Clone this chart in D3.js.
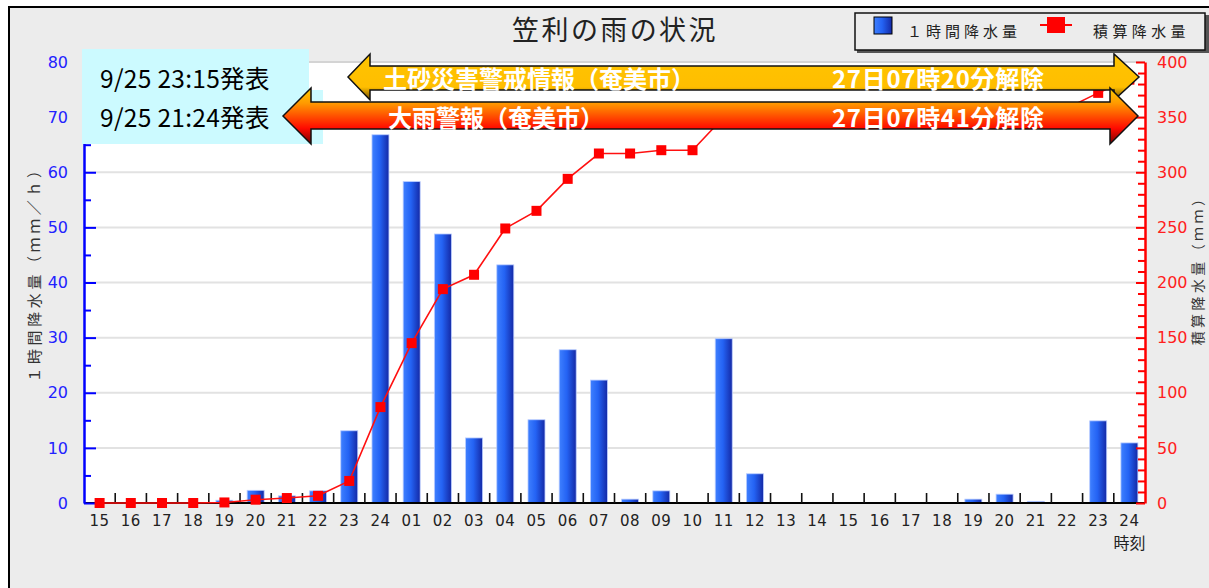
<!DOCTYPE html>
<html>
<head>
<meta charset="utf-8">
<script src="https://cdn.jsdelivr.net/npm/d3@7"></script>
<style>
  body { margin: 0; background: #fff; }
  svg { display: block; font-family: "Noto Sans CJK JP", "DejaVu Sans", sans-serif; }
</style>
</head>
<body>
<svg id="chart" width="1209" height="588"></svg>
<script>
// data
const hours = ["15","16","17","18","19","20","21","22","23","24",
  "01","02","03","04","05","06","07","08","09","10","11","12",
  "13","14","15","16","17","18","19","20","21","22","23","24"];
const hourly = [0,0,0,0,0.5,2.3,1.3,2.2,13.1,66.8,
  58.3,48.8,11.8,43.2,15.1,27.8,22.3,0.7,2.2,0,29.8,5.3,
  0,0,0,0,0,0,0.7,1.6,0.3,0,14.9,10.9];
const cumulative = [0,0,0,0,0.5,3,4.5,6.5,20,87,
  145,194,207,249,265,294,317,317,320,320,350,355,
  355,355,355,355,355,355,356,357.5,358,358,372,384];
const leftTicks = [0,10,20,30,40,50,60,70,80];
const rightTicks = [0,50,100,150,200,250,300,350,400];
const noticeTimes = ["9/25 23:15発表", "9/25 21:24発表"];
const warningNames = ["土砂災害警戒情報（奄美市）", "大雨警報（奄美市）"];
const releaseTimes = ["27日07時20分解除", "27日07時41分解除"];
const legendNames = ["１時間降水量", "積算降水量"];

const svg = d3.select("#chart");
const margin = {left: 84, right: 64, top: 62, bottom: 85};
const W = 1209, H = 588;

// outer panel
svg.append("rect").attr("x", 9).attr("y", 7).attr("width", 1300).attr("height", 700)
  .attr("fill", "#ececec").attr("stroke", "#000").attr("stroke-width", 2);

var x = d3.scaleBand().domain(d3.range(hours.length))
  .range([margin.left, W - margin.right]).padding(0);
var yL = d3.scaleLinear().domain([0, 80]).range([H - margin.bottom, margin.top]);
var yR = d3.scaleLinear().domain([0, 400]).range([H - margin.bottom, margin.top]);
const x0 = margin.left, x1 = W - margin.right, yb = H - margin.bottom;

// plot area
svg.append("rect").attr("x", x0).attr("y", margin.top).attr("width", x1 - x0)
  .attr("height", yb - margin.top).attr("fill", "#fff");
svg.append("line").attr("x1", x0).attr("x2", x1).attr("y1", margin.top).attr("y2", margin.top)
  .attr("stroke", "#d4d4d4").attr("stroke-width", 2);

// grid
svg.append("g").selectAll("line").data(leftTicks.slice(1, -1)).enter().append("line")
  .attr("x1", x0).attr("x2", x1)
  .attr("y1", d => yL(d)).attr("y2", d => yL(d))
  .attr("stroke", "#e2e2e2").attr("stroke-width", 2);

// bar gradient
const defs = svg.append("defs");
const bg = defs.append("linearGradient").attr("id", "barGrad").attr("x1", 0).attr("x2", 1).attr("y1", 0).attr("y2", 0);
bg.append("stop").attr("offset", 0).attr("stop-color", "#3f80ff");
bg.append("stop").attr("offset", 0.45).attr("stop-color", "#2463f4");
bg.append("stop").attr("offset", 1).attr("stop-color", "#1429a6");

// bars (zero hours get no bar)
const barW = 17;
const barG = svg.append("g");
hourly.forEach((v, i) => {
  if (v <= 0) return;
  barG.append("rect")
    .attr("x", x(i) + (x.bandwidth() - barW) / 2)
    .attr("y", yL(v))
    .attr("width", barW)
    .attr("height", yb - yL(v))
    .attr("fill", "url(#barGrad)")
    .attr("stroke", "#b9ccff").attr("stroke-width", 0.8);
});

// x axis baseline, boundary ticks, labels
svg.append("line").attr("x1", x0).attr("x2", x1).attr("y1", yb).attr("y2", yb)
  .attr("stroke", "#000").attr("stroke-width", 2);
svg.append("g").selectAll("line").data(d3.range(1, hours.length)).enter().append("line")
  .attr("x1", d => x(d)).attr("x2", d => x(d))
  .attr("y1", yb).attr("y2", yb - 10)
  .attr("stroke", "#111").attr("stroke-width", 1.6);
var xAxis = d3.axisBottom(x).tickSize(0).tickPadding(12).tickFormat(i => hours[i]);
var gx = svg.append("g").attr("transform", "translate(0," + yb + ")").call(xAxis);
gx.select(".domain").remove();
gx.selectAll("text").attr("font-size", 15).attr("fill", "#222")
  .attr("font-family", "DejaVu Sans").attr("letter-spacing", 0.5);
svg.append("text").attr("x", x(hours.length - 1) + x.bandwidth() / 2).attr("y", 549)
  .attr("text-anchor", "middle").attr("font-size", 16).attr("fill", "#222").text("時刻");

// left axis
var gl = svg.append("g").attr("transform", "translate(" + x0 + ",0)")
  .call(d3.axisLeft(yL).tickValues(leftTicks).tickSizeInner(-12).tickSizeOuter(0).tickPadding(16));
gl.select(".domain").attr("stroke", "#0000ff").attr("stroke-width", 2.5);
gl.selectAll(".tick line").attr("stroke", "#0000ff").attr("stroke-width", 2);
gl.selectAll("text").attr("fill", "#2222ff").attr("font-size", 16).attr("font-family", "DejaVu Sans");
var glm = svg.append("g").attr("transform", "translate(" + x0 + ",0)")
  .call(d3.axisLeft(yL).tickValues(d3.range(5, 80, 10)).tickSizeInner(-7).tickSizeOuter(0).tickFormat(""));
glm.select(".domain").remove();
glm.selectAll(".tick line").attr("stroke", "#0000ff").attr("stroke-width", 2);

// right axis
var gr = svg.append("g").attr("transform", "translate(" + x1 + ",0)")
  .call(d3.axisRight(yR).tickValues(rightTicks).tickSizeInner(-9).tickSizeOuter(0).tickPadding(12));
gr.select(".domain").attr("stroke", "#ff0000").attr("stroke-width", 2.5);
gr.selectAll(".tick line").attr("stroke", "#ff0000").attr("stroke-width", 2);
gr.selectAll("text").attr("fill", "#ff2020").attr("font-size", 16).attr("font-family", "DejaVu Sans");
var grm = svg.append("g").attr("transform", "translate(" + x1 + ",0)")
  .call(d3.axisRight(yR).tickValues(d3.range(10, 400, 10).filter(v => v % 50)).tickSizeInner(-7).tickSizeOuter(0).tickFormat(""));
grm.select(".domain").remove();
grm.selectAll(".tick line").attr("stroke", "#ff0000").attr("stroke-width", 2);

// axis titles
svg.append("text").attr("transform", "translate(33,271) rotate(-90)")
  .attr("text-anchor", "middle").attr("dominant-baseline", "central")
  .attr("font-size", 15).attr("letter-spacing", 3.6).attr("fill", "#333")
  .text("１時間降水量（ｍｍ／ｈ）");
svg.append("text").attr("transform", "translate(1197,267) rotate(-90)")
  .attr("text-anchor", "middle").attr("dominant-baseline", "central")
  .attr("font-size", 14).attr("letter-spacing", 3.4).attr("fill", "#333")
  .text("積算降水量（ｍｍ）");

// cumulative line
var line = d3.line()
  .x((d, i) => x(i) + x.bandwidth() / 2)
  .y(d => yR(d));
svg.append("path").datum(cumulative).attr("d", line)
  .attr("fill", "none").attr("stroke", "#ff1010").attr("stroke-width", 1.6);
svg.append("g").selectAll("rect").data(cumulative).enter().append("rect")
  .attr("x", (d, i) => x(i) + x.bandwidth() / 2 - 5)
  .attr("y", d => yR(d) - 5)
  .attr("width", 10).attr("height", 10).attr("fill", "#ff0000");

// notice boxes
svg.append("rect").attr("x", 82).attr("y", 49).attr("width", 227).attr("height", 48).attr("fill", "#ccfaff");
svg.append("rect").attr("x", 82).attr("y", 90).attr("width", 241).attr("height", 54).attr("fill", "#ccfaff");
svg.selectAll(".notice").data(noticeTimes).enter().append("text")
  .attr("class", "notice")
  .attr("x", 100).attr("y", (d, i) => 88 + i * 39)
  .attr("font-size", 24.5).attr("letter-spacing", 0.3).attr("fill", "#000").text(d => d);

// warning banners
const ga = defs.append("linearGradient").attr("id", "amberGrad").attr("x1", 0).attr("x2", 0).attr("y1", 0).attr("y2", 1);
ga.append("stop").attr("offset", 0).attr("stop-color", "#ffc400");
ga.append("stop").attr("offset", 0.72).attr("stop-color", "#ffbe00");
ga.append("stop").attr("offset", 1).attr("stop-color", "#6a4800");
const gd = defs.append("linearGradient").attr("id", "redGrad").attr("x1", 0).attr("x2", 0).attr("y1", 0).attr("y2", 1);
gd.append("stop").attr("offset", 0).attr("stop-color", "#ffcc00");
gd.append("stop").attr("offset", 0.27).attr("stop-color", "#ff9a00");
gd.append("stop").attr("offset", 0.72).attr("stop-color", "#ff0a00");
gd.append("stop").attr("offset", 1).attr("stop-color", "#7a0000");

const banners = [
  {xl: 348, xr: 1139, hl: 22, hr: 25, yc: 77, ht: 54, hb: 100, bt: 66, bb: 90, fill: "url(#amberGrad)", tx: 383},
  {xl: 283, xr: 1138, hl: 28, hr: 28, yc: 116, ht: 88, hb: 144, bt: 102, bb: 129, fill: "url(#redGrad)", tx: 388}
];
banners.forEach((b, i) => {
  const pts = [[b.xl, b.yc], [b.xl + b.hl, b.ht], [b.xl + b.hl, b.bt], [b.xr - b.hr, b.bt], [b.xr - b.hr, b.ht],
    [b.xr, b.yc], [b.xr - b.hr, b.hb], [b.xr - b.hr, b.bb], [b.xl + b.hl, b.bb], [b.xl + b.hl, b.hb]];
  svg.append("path").attr("d", d3.line()(pts) + "Z")
    .attr("fill", b.fill).attr("stroke", "#111").attr("stroke-width", 1.5);
  svg.append("text").attr("x", b.tx).attr("y", b.bb - 2)
    .attr("font-size", 24).attr("font-weight", "bold").attr("fill", "#fff")
    .text(warningNames[i]);
  svg.append("text").attr("x", 832).attr("y", b.bb - 2)
    .attr("font-size", 24).attr("font-weight", "bold").attr("fill", "#fff").attr("letter-spacing", 0.7)
    .text(releaseTimes[i]);
});

// title
svg.append("text").attr("x", 615).attr("y", 40).attr("text-anchor", "middle")
  .attr("font-size", 27).attr("letter-spacing", 2.4).attr("fill", "#222").text("笠利の雨の状況");

// legend
svg.append("rect").attr("x", 857).attr("y", 15).attr("width", 352).attr("height", 38).attr("fill", "#555");
svg.append("rect").attr("x", 855).attr("y", 13).attr("width", 350).attr("height", 37)
  .attr("fill", "#ececec").attr("stroke", "#111").attr("stroke-width", 1.5);
svg.append("rect").attr("x", 874).attr("y", 17).attr("width", 18).attr("height", 17)
  .attr("fill", "url(#barGrad)").attr("stroke", "#000").attr("stroke-width", 1);
svg.append("line").attr("x1", 1040).attr("x2", 1072).attr("y1", 25).attr("y2", 25)
  .attr("stroke", "#ff0000").attr("stroke-width", 2);
svg.append("rect").attr("x", 1047).attr("y", 17).attr("width", 18).attr("height", 16).attr("fill", "#ff0000");
svg.append("text").attr("x", 907).attr("y", 37).attr("font-size", 15).attr("letter-spacing", 4)
  .attr("fill", "#222").text(legendNames[0]);
svg.append("text").attr("x", 1093).attr("y", 37).attr("font-size", 15).attr("letter-spacing", 4.4)
  .attr("fill", "#222").text(legendNames[1]);
</script>
</body>
</html>
